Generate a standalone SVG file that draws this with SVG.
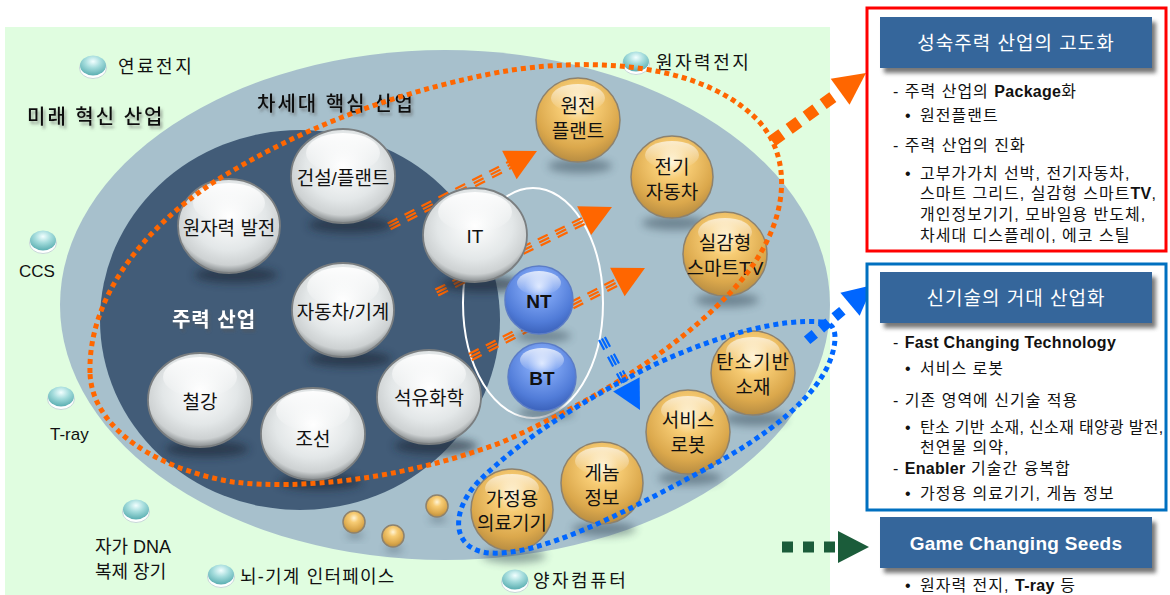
<svg xmlns="http://www.w3.org/2000/svg" width="1170" height="595" viewBox="0 0 1170 595">
<defs>
  <radialGradient id="gWhite" cx="50%" cy="40%" r="60%">
    <stop offset="0" stop-color="#ffffff"/>
    <stop offset="0.6" stop-color="#e3e7e8"/>
    <stop offset="0.86" stop-color="#cdd1d2"/>
    <stop offset="1" stop-color="#868b8d"/>
  </radialGradient>
  <radialGradient id="gGold" cx="50%" cy="32%" r="68%">
    <stop offset="0" stop-color="#fff4d6"/>
    <stop offset="0.3" stop-color="#f7cc74"/>
    <stop offset="0.75" stop-color="#dba84c"/>
    <stop offset="1" stop-color="#b88d42"/>
  </radialGradient>
  <radialGradient id="gBlue" cx="50%" cy="30%" r="70%">
    <stop offset="0" stop-color="#d3e2ff"/>
    <stop offset="0.3" stop-color="#7ba2f2"/>
    <stop offset="0.75" stop-color="#517cd8"/>
    <stop offset="1" stop-color="#3b62bb"/>
  </radialGradient>
  <radialGradient id="gTeal" cx="50%" cy="30%" r="70%">
    <stop offset="0" stop-color="#f2ffff"/>
    <stop offset="0.45" stop-color="#a4dcdc"/>
    <stop offset="1" stop-color="#5aaeb1"/>
  </radialGradient>
  <linearGradient id="gHi" x1="0" y1="0" x2="0" y2="1">
    <stop offset="0" stop-color="#ffffff" stop-opacity="0.95"/>
    <stop offset="1" stop-color="#ffffff" stop-opacity="0"/>
  </linearGradient>
  <filter id="fBlur" x="-50%" y="-100%" width="200%" height="300%">
    <feGaussianBlur stdDeviation="4"/>
  </filter>
  <filter id="fBlur2" x="-20%" y="-20%" width="140%" height="140%">
    <feGaussianBlur stdDeviation="2"/>
  </filter>
  <filter id="fText" x="-10%" y="-30%" width="120%" height="160%">
    <feDropShadow dx="2" dy="3" stdDeviation="1.5" flood-color="#555555" flood-opacity="0.55"/>
  </filter>
  <style>
    text { font-family: "Liberation Sans", "Noto Sans CJK KR", sans-serif; }
    .ctr { text-anchor: middle; dominant-baseline: central; }
    .wb { fill: url(#gWhite); stroke: #7a7e80; stroke-width: 1.8; }
    .gb { fill: url(#gGold); stroke: #8d826e; stroke-width: 1.5; }
    .bb { fill: url(#gBlue); stroke: #5b7cc6; stroke-width: 1.5; }
    .hi { fill: url(#gHi); }
    .sh { fill: #1a2636; opacity: 0.6; filter: url(#fBlur); }
    .shl { fill: #2c3c4c; opacity: 0.45; filter: url(#fBlur); }
    .t19 { font-size: 19px; fill: #111111; }
    .t18 { font-size: 18px; fill: #111111; }
    .seed { font-size: 18px; fill: #111111; letter-spacing: 2.5px; }
    .seedE { font-size: 17px; fill: #111111; }
    .lab { font-size: 20px; font-weight: 500; fill: #111111; letter-spacing: 2px; filter: url(#fText); }
    .tri { fill: none; stroke: #ff6600; stroke-width: 2.2; stroke-dasharray: 11 8; }
    .trib { fill: none; stroke: #0066ff; stroke-width: 2.2; stroke-dasharray: 11 8; }
    .ptxt { font-size: 16px; fill: #111111; letter-spacing: 1px; }
    .en { font-weight: bold; letter-spacing: 0.3px; }
    .hdr { fill: #35669b; }
    .hdrsh { fill: #555555; opacity: 0.8; filter: url(#fBlur2); }
    .htxt { font-size: 19px; fill: #ffffff; text-anchor: middle; dominant-baseline: central; letter-spacing: 1px; }
  </style>
</defs>

<!-- background regions -->
<rect x="5" y="27" width="825" height="568" fill="#e0fde0"/>
<ellipse cx="445" cy="305" rx="385" ry="255" fill="#a7c0cc"/>
<ellipse cx="300" cy="320" rx="200" ry="190" fill="#425c78"/>
<ellipse cx="533" cy="303" rx="70" ry="115" fill="none" stroke="#ffffff" stroke-width="2"/>

<!-- region labels -->
<text class="lab" x="27" y="124">미래 혁신 산업</text>
<text class="lab" x="257" y="111">차세대 핵심 산업</text>
<text x="214" y="320" class="ctr" style="font-size:20px;font-weight:bold;fill:#ffffff;letter-spacing:1px;filter:url(#fText)">주력 산업</text>

<!-- connectors -->
<g id="connectors">
  <g id="arr-it-1" transform="translate(537,151) rotate(-27)">
    <line class="tri" x1="-166" y1="-3.3" x2="-29" y2="-3.3"/>
    <line class="tri" x1="-166" y1="0" x2="-29" y2="0"/>
    <line class="tri" x1="-166" y1="3.3" x2="-29" y2="3.3"/>
    <polygon points="-31,-16 0,0 -31,16" fill="#ff6600"/>
  </g>
  <g id="arr-it-2" transform="translate(612,207) rotate(-26)">
    <line class="tri" x1="-195" y1="-3.3" x2="-29" y2="-3.3"/>
    <line class="tri" x1="-195" y1="0" x2="-29" y2="0"/>
    <line class="tri" x1="-195" y1="3.3" x2="-29" y2="3.3"/>
    <polygon points="-31,-16 0,0 -31,16" fill="#ff6600"/>
  </g>
  <g id="arr-it-3" transform="translate(645,268) rotate(-27)">
    <line class="tri" x1="-196" y1="-3.3" x2="-29" y2="-3.3"/>
    <line class="tri" x1="-196" y1="0" x2="-29" y2="0"/>
    <line class="tri" x1="-196" y1="3.3" x2="-29" y2="3.3"/>
    <polygon points="-31,-16 0,0 -31,16" fill="#ff6600"/>
  </g>
  <g id="arr-bt" transform="translate(640,410) rotate(62)">
    <line class="trib" x1="-81" y1="-3.3" x2="-27" y2="-3.3"/>
    <line class="trib" x1="-81" y1="0" x2="-27" y2="0"/>
    <line class="trib" x1="-81" y1="3.3" x2="-27" y2="3.3"/>
    <polygon points="-29,-15 0,0 -29,15" fill="#0066ff"/>
  </g>
  <g id="arr-orange-big" transform="translate(866,73) rotate(-36)">
    <line x1="-116" y1="0" x2="-35" y2="0" stroke="#ff6600" stroke-width="12" stroke-dasharray="12 9"/>
    <polygon points="-32,-16 0,0 -32,16" fill="#ff6600"/>
  </g>
  <g id="arr-blue-big" transform="translate(873,285) rotate(-40)">
    <line x1="-86" y1="0" x2="-32" y2="0" stroke="#0066ff" stroke-width="10" stroke-dasharray="10 8"/>
    <polygon points="-30,-15 0,0 -30,15" fill="#0066ff"/>
  </g>
  <g id="arr-green-big">
    <line x1="782" y1="547" x2="836" y2="547" stroke="#1b5c3a" stroke-width="11" stroke-dasharray="11 10"/>
    <polygon points="838,531 869,547 838,563" fill="#1b5c3a"/>
  </g>
</g>

<!-- seed nodes -->
<g id="seed-fuelcell">
  <ellipse cx="93" cy="68" rx="13.5" ry="10.5" fill="#ffffff" stroke="#c8d8d8" stroke-width="1"/>
  <ellipse cx="93" cy="65.5" rx="13" ry="10" fill="url(#gTeal)"/>
  <text class="seed" x="118" y="73">연료전지</text>
</g>
<g id="seed-nuclearcell">
  <ellipse cx="636" cy="64" rx="13.5" ry="10.5" fill="#ffffff" stroke="#c8d8d8" stroke-width="1"/>
  <ellipse cx="636" cy="61.5" rx="13" ry="10" fill="url(#gTeal)"/>
  <text class="seed" x="656" y="69">원자력전지</text>
</g>
<g id="seed-ccs">
  <ellipse cx="43" cy="243" rx="13.5" ry="10.5" fill="#ffffff" stroke="#c8d8d8" stroke-width="1"/>
  <ellipse cx="43" cy="240.5" rx="13" ry="10" fill="url(#gTeal)"/>
  <text class="seedE" x="19" y="277">CCS</text>
</g>
<g id="seed-tray">
  <ellipse cx="61" cy="399" rx="13.5" ry="10.5" fill="#ffffff" stroke="#c8d8d8" stroke-width="1"/>
  <ellipse cx="61" cy="396.5" rx="13" ry="10" fill="url(#gTeal)"/>
  <text class="seedE" x="50" y="440">T-ray</text>
</g>
<g id="seed-dna">
  <ellipse cx="136" cy="512" rx="13.5" ry="10.5" fill="#ffffff" stroke="#c8d8d8" stroke-width="1"/>
  <ellipse cx="136" cy="509.5" rx="13" ry="10" fill="url(#gTeal)"/>
  <text class="t18" x="95" y="553">자가 DNA</text>
  <text class="t18" x="95" y="578">복제 장기</text>
</g>
<g id="seed-bci">
  <ellipse cx="221" cy="577" rx="13.5" ry="10.5" fill="#ffffff" stroke="#c8d8d8" stroke-width="1"/>
  <ellipse cx="221" cy="574.5" rx="13" ry="10" fill="url(#gTeal)"/>
  <text class="t18" x="240" y="583" style="letter-spacing:1.2px">뇌-기계 인터페이스</text>
</g>
<g id="seed-quantum">
  <ellipse cx="515" cy="582" rx="13.5" ry="10.5" fill="#ffffff" stroke="#c8d8d8" stroke-width="1"/>
  <ellipse cx="515" cy="579.5" rx="13" ry="10" fill="url(#gTeal)"/>
  <text class="seed" x="533" y="587">양자컴퓨터</text>
</g>

<!-- main industry (white) nodes -->
<g id="n-nuclear-power">
  <ellipse class="sh" cx="236" cy="275" rx="42" ry="8"/>
  <ellipse class="wb" cx="229" cy="226" rx="51" ry="47"/>
  <ellipse class="hi" cx="229" cy="203" rx="36" ry="20"/>
  <text class="t19 ctr" x="229" y="228">원자력 발전</text>
</g>
<g id="n-construction">
  <ellipse class="sh" cx="350" cy="225" rx="42" ry="8"/>
  <ellipse class="wb" cx="343" cy="176" rx="52" ry="47"/>
  <ellipse class="hi" cx="343" cy="153" rx="37" ry="20"/>
  <text class="t19 ctr" x="343" y="178">건설/플랜트</text>
</g>
<g id="n-auto-machine">
  <ellipse class="sh" cx="350" cy="359" rx="42" ry="8"/>
  <ellipse class="wb" cx="343" cy="310" rx="51" ry="47"/>
  <ellipse class="hi" cx="343" cy="287" rx="36" ry="20"/>
  <text class="t19 ctr" x="343" y="312">자동차/기계</text>
</g>
<g id="n-steel">
  <ellipse class="sh" cx="207" cy="449" rx="42" ry="8"/>
  <ellipse class="wb" cx="200" cy="400" rx="52" ry="47"/>
  <ellipse class="hi" cx="200" cy="377" rx="37" ry="20"/>
  <text class="t19 ctr" x="200" y="402">철강</text>
</g>
<g id="n-shipbuilding">
  <ellipse class="sh" cx="320" cy="482" rx="42" ry="8"/>
  <ellipse class="wb" cx="313" cy="434" rx="52" ry="46"/>
  <ellipse class="hi" cx="313" cy="411" rx="37" ry="20"/>
  <text class="t19 ctr" x="313" y="439">조선</text>
</g>
<g id="n-petrochem">
  <ellipse class="sh" cx="436" cy="446" rx="42" ry="8"/>
  <ellipse class="wb" cx="429" cy="397" rx="52" ry="47"/>
  <ellipse class="hi" cx="429" cy="374" rx="37" ry="20"/>
  <text class="t19 ctr" x="429" y="398">석유화학</text>
</g>
<g id="n-it">
  <ellipse class="sh" cx="482" cy="284" rx="42" ry="8"/>
  <ellipse class="wb" cx="475" cy="235" rx="52" ry="47"/>
  <ellipse class="hi" cx="475" cy="212" rx="37" ry="20"/>
  <text class="t19 ctr" x="475" y="236">IT</text>
</g>

<!-- NT / BT -->
<g id="n-nt">
  <ellipse class="shl" cx="543" cy="336" rx="28" ry="6"/>
  <circle class="bb" cx="539" cy="300" r="34"/>
  <ellipse class="hi" cx="539" cy="283" rx="22" ry="12" opacity="0.8"/>
  <text class="ctr" x="539" y="301" style="font-size:19px;font-weight:bold;fill:#111111">NT</text>
</g>
<g id="n-bt">
  <ellipse class="shl" cx="546" cy="413" rx="28" ry="6"/>
  <circle class="bb" cx="542" cy="377" r="34"/>
  <ellipse class="hi" cx="542" cy="360" rx="22" ry="12" opacity="0.8"/>
  <text class="ctr" x="542" y="378" style="font-size:19px;font-weight:bold;fill:#111111">BT</text>
</g>

<!-- next-generation (gold) nodes -->
<g id="n-nuclear-plant">
  <ellipse class="shl" cx="580" cy="166" rx="32" ry="7"/>
  <circle class="gb" cx="578" cy="120" r="42"/>
  <ellipse class="hi" cx="578" cy="98" rx="27" ry="14" opacity="0.7"/>
  <text class="t19 ctr" x="578" y="106">원전</text>
  <text class="t19 ctr" x="578" y="131">플랜트</text>
</g>
<g id="n-ev">
  <ellipse class="shl" cx="674" cy="223" rx="32" ry="7"/>
  <circle class="gb" cx="672" cy="177" r="41"/>
  <ellipse class="hi" cx="672" cy="155" rx="27" ry="14" opacity="0.7"/>
  <text class="t19 ctr" x="672" y="167">전기</text>
  <text class="t19 ctr" x="672" y="192">자동차</text>
</g>
<g id="n-smarttv">
  <ellipse class="shl" cx="727" cy="300" rx="32" ry="7"/>
  <circle class="gb" cx="725" cy="254" r="42"/>
  <ellipse class="hi" cx="725" cy="232" rx="27" ry="14" opacity="0.7"/>
  <text class="t19 ctr" x="725" y="243">실감형</text>
  <text class="t19 ctr" x="725" y="268">스마트TV</text>
</g>
<g id="n-carbon">
  <ellipse class="shl" cx="755" cy="419" rx="32" ry="7"/>
  <circle class="gb" cx="753" cy="373" r="42"/>
  <ellipse class="hi" cx="753" cy="351" rx="27" ry="14" opacity="0.7"/>
  <text class="t19 ctr" x="753" y="362" style="letter-spacing:1px">탄소기반</text>
  <text class="t19 ctr" x="753" y="387">소재</text>
</g>
<g id="n-robot">
  <ellipse class="shl" cx="690" cy="478" rx="32" ry="7"/>
  <circle class="gb" cx="688" cy="432" r="42"/>
  <ellipse class="hi" cx="688" cy="410" rx="27" ry="14" opacity="0.7"/>
  <text class="t19 ctr" x="688" y="420">서비스</text>
  <text class="t19 ctr" x="688" y="445">로봇</text>
</g>
<g id="n-genome">
  <ellipse class="shl" cx="604" cy="529" rx="32" ry="7"/>
  <circle class="gb" cx="602" cy="483" r="41"/>
  <ellipse class="hi" cx="602" cy="461" rx="27" ry="14" opacity="0.7"/>
  <text class="t19 ctr" x="602" y="473">게놈</text>
  <text class="t19 ctr" x="602" y="498">정보</text>
</g>
<g id="n-homemed">
  <ellipse class="shl" cx="514" cy="556" rx="32" ry="7"/>
  <circle class="gb" cx="512" cy="510" r="41"/>
  <ellipse class="hi" cx="512" cy="488" rx="27" ry="14" opacity="0.7"/>
  <text class="t19 ctr" x="512" y="499">가정용</text>
  <text class="t19 ctr" x="512" y="523">의료기기</text>
</g>
<g id="n-dots">
  <ellipse class="shl" cx="355" cy="535" rx="9" ry="3"/>
  <circle class="gb" cx="354" cy="522" r="11"/>
  <ellipse class="shl" cx="394" cy="549" rx="9" ry="3"/>
  <circle class="gb" cx="393" cy="536" r="11"/>
  <ellipse class="shl" cx="438" cy="519" rx="9" ry="3"/>
  <circle class="gb" cx="437" cy="506" r="11"/>
</g>

<!-- grouping loops -->
<g id="loops">
  <path d="M 90,373 C 88,300 140,230 217,180 C 290,135 380,95 500,72 C 580,58 690,60 750,113 C 795,150 795,225 730,293 C 690,335 620,390 500,443 C 400,480 300,490 233,482 C 160,470 92,430 90,373 Z" fill="none" stroke="#ff6600" stroke-width="5" stroke-dasharray="5 4"/>
  <path d="M 823,322 C 780,318 720,335 660,362 C 590,395 520,440 480,480 C 450,510 450,550 490,553 C 540,556 620,515 700,472 C 770,435 820,395 832,355 C 838,335 835,323 823,322 Z" fill="none" stroke="#0066ff" stroke-width="5" stroke-dasharray="5 4"/>
</g>

<!-- right panel: box 1 -->
<g id="box-mature">
  <rect x="867" y="8" width="299" height="243" fill="#ffffff" stroke="#ff0000" stroke-width="3"/>
  <rect class="hdrsh" x="884" y="22" width="272" height="51"/>
  <rect class="hdr" x="880" y="17" width="272" height="51"/>
  <text class="htxt" x="1016" y="43">성숙주력 산업의 고도화</text>
  <text class="ptxt" x="893" y="97">- 주력 산업의 <tspan class="en">Package</tspan>화</text>
  <text class="ptxt" x="905" y="121">•<tspan x="920">원전플랜트</tspan></text>
  <text class="ptxt" x="893" y="151">- 주력 산업의 진화</text>
  <text class="ptxt" x="905" y="179">•<tspan x="920">고부가가치 선박, 전기자동차,</tspan></text>
  <text class="ptxt" x="920" y="199">스마트 그리드, 실감형 스마트<tspan class="en">TV</tspan>,</text>
  <text class="ptxt" x="920" y="220">개인정보기기, 모바일용 반도체,</text>
  <text class="ptxt" x="920" y="241">차세대 디스플레이, 에코 스틸</text>
</g>

<!-- right panel: box 2 -->
<g id="box-newtech">
  <rect x="867" y="264" width="299" height="246" fill="#ffffff" stroke="#0070c0" stroke-width="3"/>
  <rect class="hdrsh" x="884" y="277" width="272" height="51"/>
  <rect class="hdr" x="880" y="272" width="272" height="51"/>
  <text class="htxt" x="1016" y="298">신기술의 거대 산업화</text>
  <text class="ptxt" x="893" y="348">- <tspan class="en">Fast Changing Technology</tspan></text>
  <text class="ptxt" x="905" y="374">•<tspan x="920">서비스 로봇</tspan></text>
  <text class="ptxt" x="893" y="406">- 기존 영역에 신기술 적용</text>
  <text class="ptxt" x="905" y="433">•<tspan x="920" style="letter-spacing:0.3px">탄소 기반 소재, 신소재 태양광 발전,</tspan></text>
  <text class="ptxt" x="920" y="453">천연물 의약,</text>
  <text class="ptxt" x="893" y="474">- <tspan class="en">Enabler</tspan> 기술간 융복합</text>
  <text class="ptxt" x="905" y="499">•<tspan x="920">가정용 의료기기, 게놈 정보</tspan></text>
</g>

<!-- right panel: box 3 -->
<g id="box-seeds">
  <rect class="hdrsh" x="884" y="522" width="272" height="51"/>
  <rect class="hdr" x="880" y="517" width="272" height="51"/>
  <text class="htxt" x="1016" y="543" font-weight="bold" style="letter-spacing:0.3px">Game Changing Seeds</text>
  <text class="ptxt" x="905" y="591">•<tspan x="920">원자력 전지, <tspan class="en">T-ray</tspan> 등</tspan></text>
</g>
</svg>
